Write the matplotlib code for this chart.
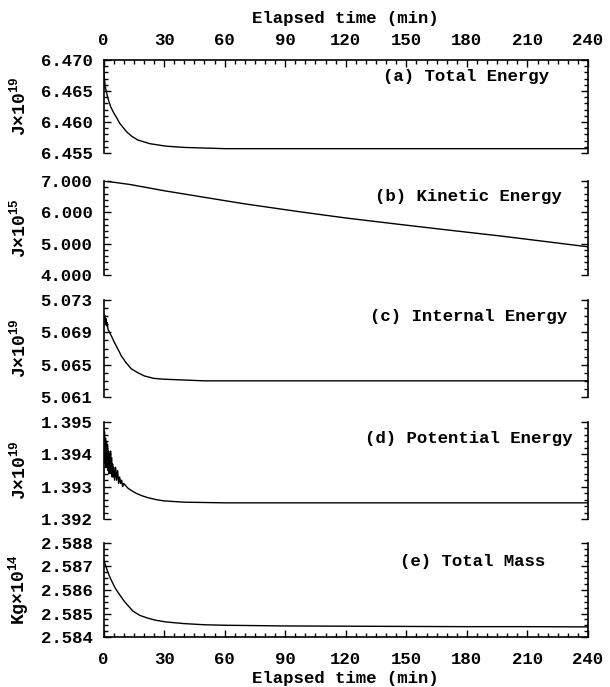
import matplotlib
matplotlib.use("Agg")
import matplotlib.pyplot as plt
from matplotlib.ticker import FixedLocator, MultipleLocator, FormatStrFormatter

plt.rcParams['font.family'] = ['Liberation Mono', 'DejaVu Sans Mono']
plt.rcParams['font.weight'] = 'bold'
plt.rcParams['mathtext.fontset'] = 'custom'
plt.rcParams['mathtext.rm'] = 'Liberation Mono:bold'
plt.rcParams['mathtext.default'] = 'rm'

# ---------------- data ----------------
x_ticks = [0, 30, 60, 90, 120, 150, 180, 210, 240]

t_a = [0, 0.5, 1, 1.6, 2.5, 3.5, 5, 6.5, 8, 10, 11.5, 14, 17, 20, 23, 27, 31, 40, 50,
       60, 90, 120, 150, 180, 210, 240]
total_energy = [6.4685, 6.4668, 6.4655, 6.4646, 6.4635, 6.4625, 6.4615, 6.4607, 6.4598,
                6.4590, 6.4584, 6.4577, 6.4571, 6.4568, 6.4565, 6.4563, 6.4561, 6.4559,
                6.4558, 6.4557, 6.4557, 6.4557, 6.4557, 6.4557, 6.4557, 6.4557]
yticks_a = [6.455, 6.460, 6.465, 6.470]

t_b = [0, 5, 13, 30, 48, 70, 97, 120, 146, 170, 196, 220, 240]
kinetic_energy = [7.00, 6.96, 6.89, 6.69, 6.50, 6.27, 6.02, 5.82, 5.62, 5.44, 5.25,
                  5.06, 4.90]
yticks_b = [4.0, 5.0, 6.0, 7.0]

t_c = [0, 0.3, 0.6, 0.9, 1.2, 1.5, 1.8, 2.2, 3, 4, 5.5, 7, 8.8, 11, 13.7, 17, 20.3,
       25, 30, 40, 50, 60, 90, 120, 150, 180, 210, 240]
internal_energy = [5.0712, 5.0703, 5.0711, 5.0701, 5.0707, 5.0698, 5.0702, 5.0694,
                   5.0690, 5.0685, 5.0677, 5.0670, 5.0661, 5.0653, 5.0645, 5.0640,
                   5.0636, 5.0633, 5.0632, 5.0631, 5.0630, 5.0630, 5.0630, 5.0630,
                   5.0630, 5.0630, 5.0630, 5.0630]
yticks_c = [5.061, 5.065, 5.069, 5.073]

t_d = [0, 0.25, 0.5, 0.75, 1.0, 1.25, 1.5, 1.75, 2.0, 2.25, 2.5, 2.75, 3.0, 3.25, 3.5,
       3.75, 4.0, 4.25, 4.5, 4.75, 5.0, 5.5, 6.0, 6.5, 7.0, 7.5, 8.0, 8.5, 9.0, 9.5,
       10, 11, 12, 13.8, 16, 19, 22, 26, 30, 40, 50, 60, 90, 120, 150, 180, 210, 240]
potential_energy = [1.3949, 1.3942, 1.3947, 1.3937, 1.3945, 1.3936, 1.3944, 1.3937,
                    1.3943, 1.3935, 1.3941, 1.3934, 1.3940, 1.3935, 1.3941, 1.3934,
                    1.3939, 1.3933, 1.3937, 1.3933, 1.3936, 1.3932, 1.3936, 1.3932,
                    1.3935, 1.3931, 1.3933, 1.3931, 1.3932, 1.3930, 1.3931, 1.39303,
                    1.39296, 1.39288, 1.39280, 1.39272, 1.39266, 1.39260, 1.39256,
                    1.39252, 1.39251, 1.3925, 1.3925, 1.3925, 1.3925, 1.3925, 1.3925,
                    1.3925]
yticks_d = [1.392, 1.393, 1.394, 1.395]

t_e = [0, 1, 2, 3, 4.5, 6, 8, 10, 12, 14.6, 18, 22, 26, 31, 40, 50, 60, 90, 120, 150,
       180, 210, 240]
total_mass = [2.5873, 2.58705, 2.5868, 2.58658, 2.5863, 2.58605, 2.5858, 2.58555,
              2.58535, 2.5851, 2.58492, 2.5848, 2.58471, 2.58464, 2.58457, 2.58452,
              2.5845, 2.58447, 2.58446, 2.58445, 2.58444, 2.58444, 2.58443]
yticks_e = [2.584, 2.585, 2.586, 2.587, 2.588]

panels = [
    dict(t=t_a, y=total_energy, ylim=(6.455, 6.470), ticks=yticks_a, minor=0.001,
         label='J×10$^{19}$', title='(a) Total Energy', tx=0.92, ty=0.82),
    dict(t=t_b, y=kinetic_energy, ylim=(4.0, 7.0), ticks=yticks_b, minor=0.2,
         label='J×10$^{15}$', title='(b) Kinetic Energy', tx=0.946, ty=0.83),
    dict(t=t_c, y=internal_energy, ylim=(5.061, 5.073), ticks=yticks_c, minor=0.001,
         label='J×10$^{19}$', title='(c) Internal Energy', tx=0.957, ty=0.825),
    dict(t=t_d, y=potential_energy, ylim=(1.392, 1.395), ticks=yticks_d, minor=0.0002,
         label='J×10$^{19}$', title='(d) Potential Energy', tx=0.967, ty=0.835),
    dict(t=t_e, y=total_mass, ylim=(2.584, 2.588), ticks=yticks_e, minor=0.00025,
         label='Kg×10$^{14}$', title='(e) Total Mass', tx=0.911, ty=0.80),
]

# panel boxes in pixel coordinates (top, bottom)
W, H = 610, 687
rows = [(60, 153), (181, 275), (300, 397), (422, 519), (543, 637)]
left_px, right_px = 103.5, 588

fig = plt.figure(figsize=(W / 100, H / 100), dpi=100)
fs = 12.5

for i, (p, (top, bot)) in enumerate(zip(panels, rows)):
    ax = fig.add_axes([left_px / W, 1 - bot / H, (right_px - left_px) / W, (bot - top) / H])
    ax.plot(p['t'], p['y'], color='black', lw=1.0)
    ax.set_xlim(0, 240)
    ax.set_ylim(*p['ylim'])
    ax.yaxis.set_major_locator(FixedLocator(p['ticks']))
    lo, hi = p['ylim']
    n = int(round((hi - lo) / p['minor']))
    ax.yaxis.set_minor_locator(FixedLocator([lo + k * p['minor'] for k in range(n + 1)]))
    ax.yaxis.set_major_formatter(FormatStrFormatter('%.3f'))
    ax.xaxis.set_major_locator(FixedLocator(x_ticks))
    ax.xaxis.set_minor_locator(MultipleLocator(5))
    for s in ax.spines.values():
        s.set_linewidth(1.2)
    ax.spines['top'].set_visible(i == 0)
    ax.spines['bottom'].set_visible(i == len(panels) - 1)
    ax.tick_params(axis='y', which='both', direction='in', left=True, right=True,
                   labelsize=fs, pad=8, width=1.0)
    ax.tick_params(axis='y', which='major', length=5)
    ax.tick_params(axis='y', which='minor', length=3)
    if i == 0:
        ax.tick_params(axis='x', which='both', direction='in', top=True, bottom=False,
                       labeltop=True, labelbottom=False, labelsize=fs, pad=8.5, width=1.0)
    elif i == len(panels) - 1:
        ax.tick_params(axis='x', which='both', direction='in', top=False, bottom=True,
                       labeltop=False, labelbottom=True, labelsize=fs, pad=10.5, width=1.0)
    else:
        ax.tick_params(axis='x', which='both', top=False, bottom=False,
                       labeltop=False, labelbottom=False)
    ax.tick_params(axis='x', which='major', length=5)
    ax.tick_params(axis='x', which='minor', length=3)
    ax.text(p['tx'], p['ty'], p['title'], transform=ax.transAxes, ha='right',
            va='center', fontsize=fs)
    fig.text(19 / W, 1 - (top + bot) / 2 / H, p['label'], rotation=90, ha='center',
             va='center', fontsize=13)

fig.text((left_px + right_px) / 2 / W, 1 - 18 / H, 'Elapsed time (min)', ha='center',
         va='center', fontsize=fs)
fig.text((left_px + right_px) / 2 / W, 1 - 678 / H, 'Elapsed time (min)', ha='center',
         va='center', fontsize=fs)

fig.savefig('out.png', dpi=100)
